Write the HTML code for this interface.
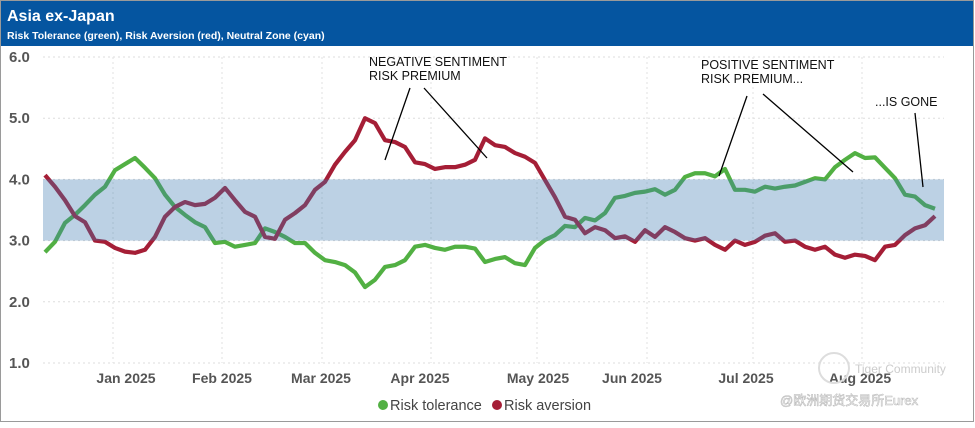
<!DOCTYPE html>
<html><head><meta charset="utf-8"><style>
body{margin:0;background:#fff;width:975px;height:423px;overflow:hidden;font-family:"Liberation Sans",sans-serif}
</style></head><body>
<svg id="c" width="975" height="423" xmlns="http://www.w3.org/2000/svg">
<rect x="0.5" y="0.5" width="973" height="421" fill="#fff" stroke="#9a9a9a"/>
<rect x="1" y="1" width="972" height="45" fill="#0555a0"/>
<text x="7" y="21" fill="#fff" font-size="16" font-weight="bold">Asia ex-Japan</text>
<text x="7" y="39" fill="#fff" font-size="10.5" font-weight="bold">Risk Tolerance (green), Risk Aversion (red), Neutral Zone (cyan)</text>
<g id="grid"></g><g id="lines"></g><g id="band"></g><g id="axes"></g>
<g font-size="12.5" fill="#111">
<text x="369" y="66">NEGATIVE SENTIMENT</text><text x="369" y="80">RISK PREMIUM</text>
<line x1="410" y1="88" x2="385" y2="160" stroke="#000" stroke-width="1.3"/>
<line x1="424" y1="88" x2="487" y2="158" stroke="#000" stroke-width="1.3"/>
<text x="701" y="69">POSITIVE SENTIMENT</text><text x="701" y="83">RISK PREMIUM...</text>
<line x1="747" y1="96" x2="719" y2="176" stroke="#000" stroke-width="1.3"/>
<line x1="763" y1="94" x2="853" y2="172" stroke="#000" stroke-width="1.3"/>
<text x="875" y="106">...IS GONE</text>
<line x1="915" y1="113" x2="923" y2="187" stroke="#000" stroke-width="1.3"/>
</g>
<g font-size="14.5" fill="#444">
<circle cx="383" cy="405" r="5" fill="#52b043"/><text x="390" y="410">Risk tolerance</text>
<circle cx="497" cy="405" r="5" fill="#a51e36"/><text x="504" y="410">Risk aversion</text>
</g>
<g font-family="'Liberation Sans','Noto Sans CJK SC',sans-serif">
<circle cx="834" cy="368" r="15" fill="none" stroke="#ddd" stroke-width="2"/>
<text x="855" y="373" font-size="12" fill="#ccc">Tiger Community</text>
<text x="780" y="405" font-size="13" fill="#fff" stroke="#bbb" stroke-width="0.6">@欧洲期货交易所Eurex</text>
</g>
</svg>
<script>
const yTicks=[1,2,3,4,5,6];
const yTickLabels=["1.0","2.0","3.0","4.0","5.0","6.0"];
const monthLabels=["Jan 2025","Feb 2025","Mar 2025","Apr 2025","May 2025","Jun 2025","Jul 2025","Aug 2025"];
const monthIdx=[8.1,17.7,27.6,37.5,49.3,58.7,70.1,81.5];
const gridIdx=[6.8,17.7,27.7,38.6,49.2,60.2,70.8,81.7];
const neutralZone=[3,4];
const riskTolerance=[2.81,2.98,3.29,3.42,3.58,3.75,3.88,4.15,4.25,4.35,4.19,4.02,3.75,3.55,3.42,3.30,3.22,2.96,2.98,2.90,2.93,2.96,3.2,3.14,3.06,2.96,2.96,2.8,2.68,2.65,2.6,2.48,2.24,2.36,2.57,2.6,2.68,2.9,2.93,2.88,2.85,2.9,2.9,2.87,2.65,2.7,2.73,2.63,2.6,2.88,3.01,3.09,3.24,3.22,3.37,3.33,3.45,3.70,3.73,3.78,3.8,3.84,3.75,3.83,4.04,4.1,4.1,4.05,4.17,3.83,3.83,3.8,3.88,3.85,3.88,3.9,3.96,4.02,4.0,4.2,4.32,4.43,4.35,4.36,4.19,4.02,3.75,3.72,3.58,3.52];
const riskAversion=[4.07,3.88,3.66,3.40,3.3,3.0,2.98,2.88,2.82,2.8,2.85,3.06,3.39,3.55,3.63,3.58,3.6,3.70,3.86,3.66,3.47,3.39,3.06,3.03,3.34,3.45,3.58,3.83,3.96,4.24,4.45,4.64,5.0,4.92,4.64,4.61,4.53,4.28,4.25,4.17,4.2,4.2,4.24,4.32,4.67,4.56,4.53,4.43,4.37,4.27,3.99,3.71,3.39,3.34,3.12,3.22,3.17,3.04,3.07,2.98,3.17,3.06,3.22,3.14,3.04,3.0,3.04,2.93,2.85,3.0,2.93,2.98,3.08,3.12,2.98,3.0,2.9,2.85,2.9,2.77,2.72,2.77,2.75,2.68,2.9,2.93,3.09,3.2,3.25,3.4];
const NS='http://www.w3.org/2000/svg';
const X0=43,X1=944;
function xs(i){return 45+i*10;}
function ys(v){return 57+(6-v)*61.2;}
function mk(t,a,p){const e=document.createElementNS(NS,t);for(const k in a)e.setAttribute(k,a[k]);p.appendChild(e);return e;}
const grid=document.getElementById('grid'),axes=document.getElementById('axes'),lines=document.getElementById('lines'),band=document.getElementById('band');
yTicks.forEach((v,k)=>{
 const l=mk('line',{x1:X0,x2:X1,y1:ys(v),y2:ys(v),stroke:'#ddd','stroke-dasharray':'2,3'},grid);
 
 
 const t=mk('text',{x:9,y:ys(v)+5,'font-size':15,'font-weight':'bold',fill:'#555'},axes);
 t.textContent=yTickLabels[k];
 
 
});
gridIdx.forEach(i=>{
 const l=mk('line',{x1:xs(i),x2:xs(i),y1:ys(6),y2:ys(1),stroke:'#e2e2e2','stroke-dasharray':'2,3'},grid);
 
 
});
monthLabels.forEach((m,k)=>{
 const t=mk('text',{x:xs(monthIdx[k]),y:383,'font-size':14,'font-weight':'bold',fill:'#555','text-anchor':'middle'},axes);
 t.textContent=m;
 
 
});
function path(d,col,name){
 const p=mk('path',{d:d.map((v,i)=>(i?'L':'M')+xs(i)+','+ys(v)).join(''),fill:'none',stroke:col,'stroke-width':4.2,'stroke-linejoin':'round'},lines);
 
 
}
path(riskTolerance,'#52b043','risk-tolerance-line');
path(riskAversion,'#a51e36','risk-aversion-line');
const b=mk('rect',{x:X0,y:ys(neutralZone[1]),width:X1-X0,height:ys(neutralZone[0])-ys(neutralZone[1]),fill:'rgb(64,124,178)','fill-opacity':0.35},band);


</script>
</body></html>
